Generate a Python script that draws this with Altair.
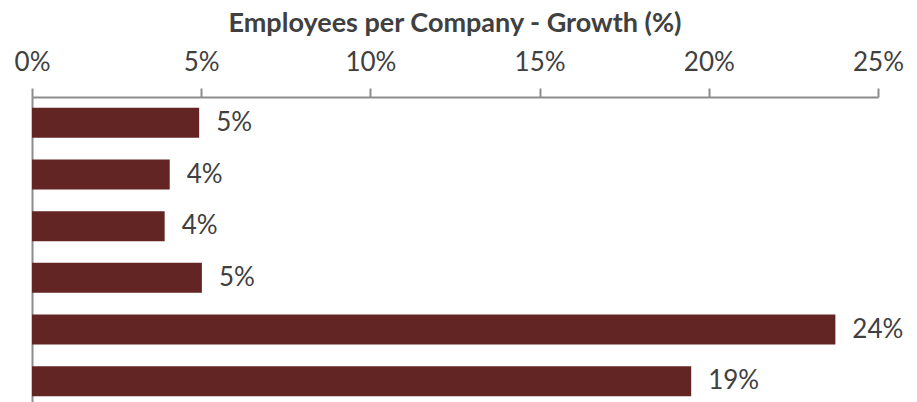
import altair as alt
import pandas as pd

categories = ["Cat 1", "Cat 2", "Cat 3", "Cat 4", "Cat 5", "Cat 6"]
growth = [0.0494, 0.0407, 0.0392, 0.0502, 0.2374, 0.1948]
x_ticks = [0, 0.05, 0.10, 0.15, 0.20, 0.25]

df = pd.DataFrame({"category": categories, "growth": growth})

AXIS_GREY = "#8c8c8c"
TEXT = "#404040"
BAR = "#632523"

base = alt.Chart(df).encode(
    y=alt.Y(
        "category:N",
        sort=categories,
        scale=alt.Scale(paddingInner=0.42, paddingOuter=0.21),
        axis=alt.Axis(labels=False, ticks=False, title=None, grid=False,
                      domainColor=AXIS_GREY, domainWidth=2),
    ),
    x=alt.X(
        "growth:Q",
        scale=alt.Scale(domain=[0, 0.25], nice=False, zero=True),
        axis=alt.Axis(orient="top", values=x_ticks, format=".0%", title=None,
                      grid=False, labelFont="Lato", labelFontSize=26,
                      labelColor=TEXT, labelBaseline="alphabetic",
                      labelPadding=18, labelFlush=False, labelOverlap=False,
                      tickSize=9, tickWidth=2,
                      tickColor=AXIS_GREY, domainColor=AXIS_GREY,
                      domainWidth=2),
    ),
)

bars = base.mark_bar(color=BAR)
labels = base.mark_text(align="left", baseline="middle", dx=17, font="Lato",
                        fontSize=26, color=TEXT).encode(
    text=alt.Text("growth:Q", format=".0%")
)

chart = (bars + labels).properties(
    width=846,
    height=310,
    title=alt.TitleParams("Employees per Company - Growth (%)", font="Lato",
                          fontSize=27, fontWeight="bold", color=TEXT,
                          anchor="middle", frame="group",
                          baseline="alphabetic", offset=-10),
    autosize=alt.AutoSizeParams(type="none"),
    padding={"left": 24, "top": 89, "right": 30, "bottom": 0},
).configure_view(stroke=None)

chart.save("out.html", embed_options={"renderer": "svg", "actions": False})
